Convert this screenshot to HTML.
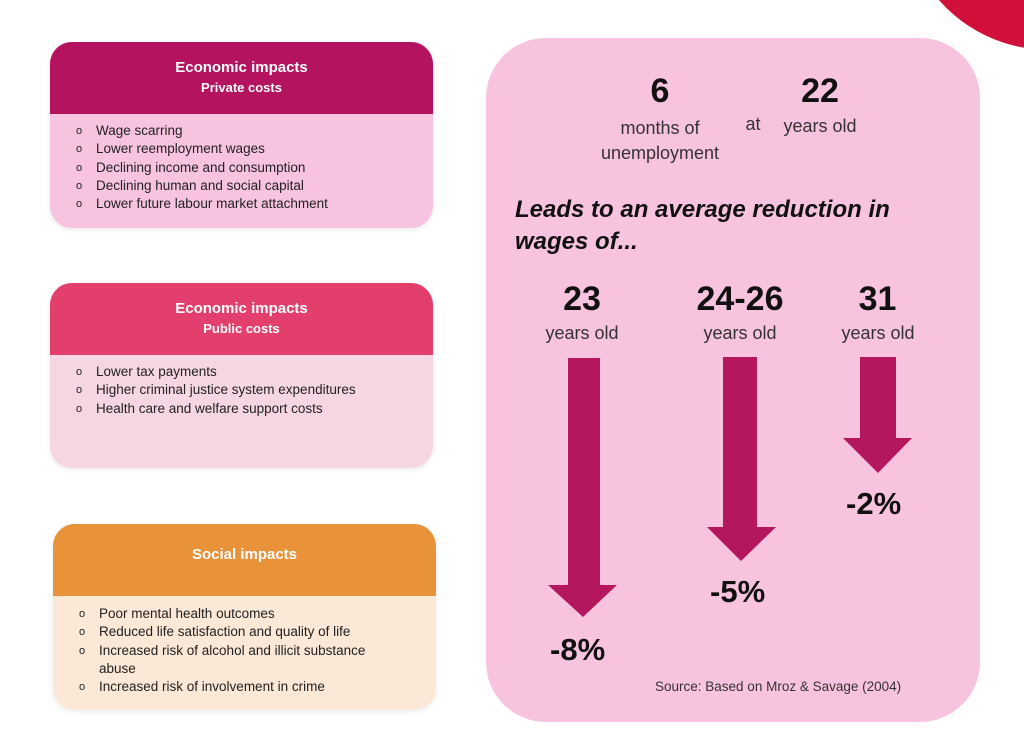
<!DOCTYPE html>
<html><head><style>
body{margin:0;width:1024px;height:734px;background:#fff;position:relative;overflow:hidden;font-family:"Liberation Sans","DejaVu Sans",sans-serif;color:#222}
.a{position:absolute}
.card{position:absolute;border-radius:22px;overflow:hidden;box-shadow:0 2px 6px rgba(0,0,0,0.08)}
.hd{color:#fff;font-weight:bold;text-align:center;font-size:15px;line-height:20px}
.hd small{font-size:13px}
ul{margin:0;padding:0;list-style:none}
li{font-size:13.5px;line-height:18.3px;padding-left:46px;position:relative}
li:before{content:"o";position:absolute;left:26px;font-size:11px}
.big{position:absolute;font-weight:bold;font-size:34px;text-align:center;color:#111}
.sm{position:absolute;font-size:18px;text-align:center;color:#333}
.pct{position:absolute;font-weight:bold;font-size:31px;color:#111}
</style></head><body>
<div class="a" style="left:905px;top:-230px;width:290px;height:280px;border-radius:50%;background:#d0103a"></div>

<div class="card" style="left:50px;top:42px;width:383px;height:186px;background:#f7c3e0">
 <div class="hd" style="background:#b4135f;height:72px;padding-top:16px;box-sizing:border-box">Economic impacts<br><small>Private costs</small></div>
 <ul style="padding-top:8px"><li>Wage scarring</li><li>Lower reemployment wages</li><li>Declining income and consumption</li><li>Declining human and social capital</li><li>Lower future labour market attachment</li></ul>
</div>

<div class="card" style="left:50px;top:283px;width:383px;height:185px;background:#f7d6e3">
 <div class="hd" style="background:#e33f6c;height:72px;padding-top:16px;box-sizing:border-box">Economic impacts<br><small>Public costs</small></div>
 <ul style="padding-top:8px"><li>Lower tax payments</li><li>Higher criminal justice system expenditures</li><li>Health care and welfare support costs</li></ul>
</div>

<div class="card" style="left:53px;top:524px;width:383px;height:186px;background:#fbe8d6">
 <div class="hd" style="background:#e8923a;height:72px;padding-top:21px;box-sizing:border-box">Social impacts</div>
 <ul style="padding-top:9px"><li>Poor mental health outcomes</li><li>Reduced life satisfaction and quality of life</li><li>Increased risk of alcohol and illicit substance<br>abuse</li><li>Increased risk of involvement in crime</li></ul>
</div>

<div class="a" style="left:486px;top:38px;width:494px;height:684px;border-radius:60px;background:#f8c3df"></div>
<div class="big" style="left:620px;top:72px;width:80px">6</div>
<div class="big" style="left:770px;top:72px;width:100px">22</div>
<div class="sm" style="left:580px;top:116px;width:160px;line-height:25px">months of<br>unemployment</div>
<div class="sm" style="left:738px;top:114px;width:30px">at</div>
<div class="sm" style="left:770px;top:116px;width:100px">years old</div>
<div class="a" style="left:515px;top:194px;font-size:24px;font-weight:bold;font-style:italic;line-height:32px;color:#111">Leads to an average reduction in<br>wages of...</div>

<div class="big" style="left:532px;top:280px;width:100px">23</div>
<div class="big" style="left:680px;top:280px;width:120px">24-26</div>
<div class="big" style="left:830px;top:280px;width:95px">31</div>
<div class="sm" style="left:532px;top:323px;width:100px">years old</div>
<div class="sm" style="left:690px;top:323px;width:100px">years old</div>
<div class="sm" style="left:828px;top:323px;width:100px">years old</div>

<svg class="a" style="left:0;top:0" width="1024" height="734">
 <g fill="#b5175f">
  <polygon points="568,358 600,358 600,585 617,585 583,617 548,585 568,585"/>
  <polygon points="723,357 757,357 757,527 776,527 741,561 707,527 723,527"/>
  <polygon points="860,357 896,357 896,438 912,438 878,473 843,438 860,438"/>
 </g>
</svg>
<div class="pct" style="left:550px;top:632px">-8%</div>
<div class="pct" style="left:710px;top:574px">-5%</div>
<div class="pct" style="left:846px;top:486px">-2%</div>
<div class="a" style="left:655px;top:679px;font-size:13.5px;color:#333">Source: Based on Mroz &amp; Savage (2004)</div>
</body></html>
